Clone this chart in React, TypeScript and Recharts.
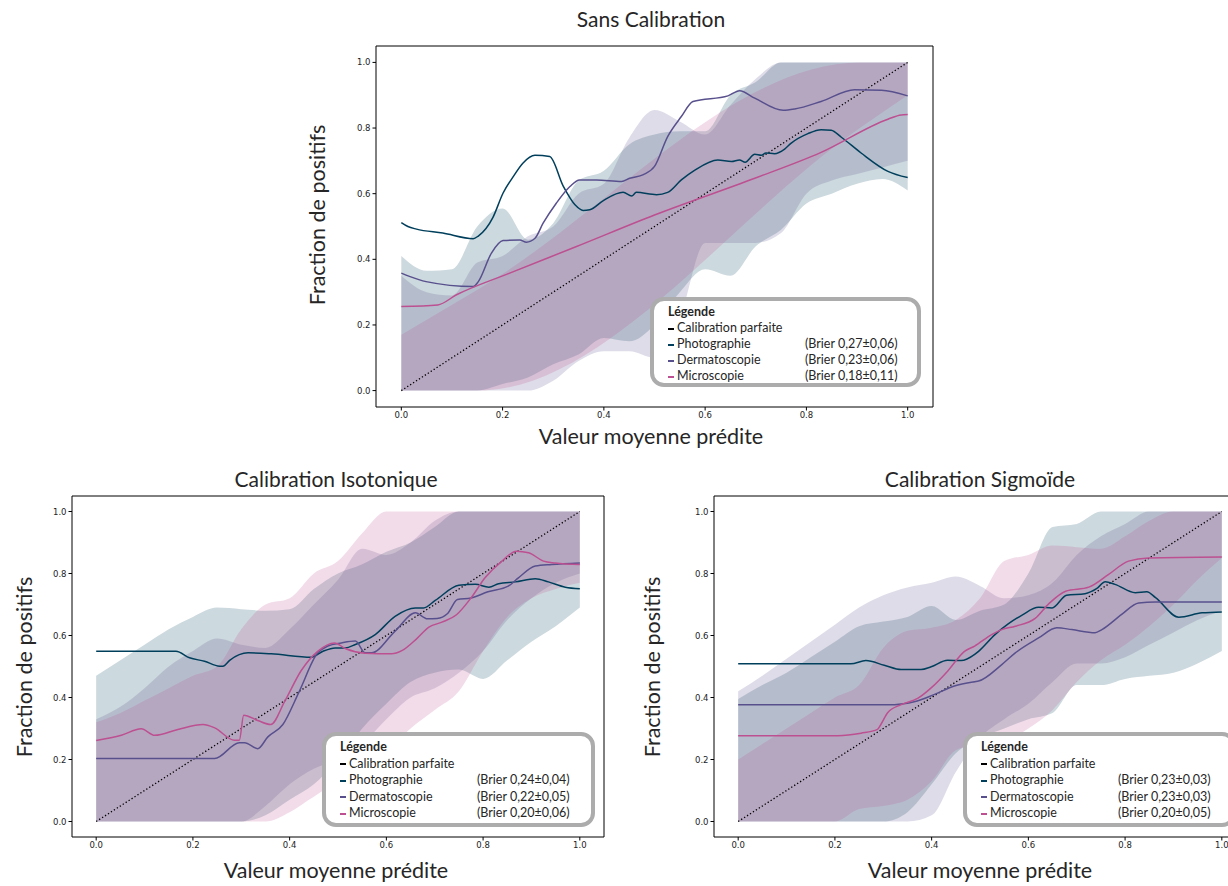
import React from "react";
import { Area, ComposedChart, Line, ReferenceArea, XAxis, YAxis } from "recharts";

const seriesNames = ["Photographie", "Dermatoscopie", "Microscopie"];
const seriesColors = ["#003f5c", "#58508d", "#bc5090"];
const axisTicks = [0, 0.2, 0.4, 0.6, 0.8, 1.0];
const bandX = [0, 0.05, 0.1, 0.15, 0.2, 0.25, 0.3, 0.35, 0.4, 0.45, 0.5, 0.55, 0.6, 0.65, 0.7, 0.75, 0.8, 0.85, 0.9, 0.95, 1.0];
const diagonalX = [0, 1];
const diagonalY = [0, 1];

// Sans calibration
const topPhotoX = [0, 0.013, 0.03, 0.082, 0.142, 0.152, 0.181, 0.201, 0.221, 0.24, 0.264, 0.293, 0.32, 0.343, 0.359, 0.372, 0.399, 0.438, 0.455, 0.464, 0.504, 0.526, 0.553, 0.579, 0.625, 0.652, 0.668, 0.679, 0.698, 0.711, 0.72, 0.737, 0.757, 0.77, 0.803, 0.829, 0.849, 0.869, 0.908, 0.961, 1.0];
const topPhotoY = [0.512, 0.5, 0.492, 0.48, 0.463, 0.471, 0.528, 0.602, 0.652, 0.693, 0.717, 0.713, 0.622, 0.566, 0.549, 0.551, 0.579, 0.604, 0.593, 0.604, 0.597, 0.604, 0.642, 0.671, 0.703, 0.698, 0.703, 0.696, 0.72, 0.717, 0.724, 0.722, 0.736, 0.754, 0.783, 0.795, 0.793, 0.772, 0.724, 0.668, 0.649];
const topDermX = [0, 0.016, 0.049, 0.142, 0.152, 0.178, 0.201, 0.234, 0.247, 0.264, 0.28, 0.306, 0.333, 0.352, 0.385, 0.435, 0.451, 0.478, 0.5, 0.526, 0.553, 0.576, 0.645, 0.668, 0.698, 0.754, 0.777, 0.829, 0.895, 0.948, 1.0];
const topDermY = [0.358, 0.348, 0.332, 0.317, 0.332, 0.419, 0.457, 0.459, 0.452, 0.464, 0.51, 0.571, 0.622, 0.642, 0.642, 0.637, 0.647, 0.658, 0.683, 0.774, 0.835, 0.881, 0.898, 0.914, 0.891, 0.854, 0.858, 0.881, 0.917, 0.915, 0.898];
const topMicroX = [0, 0.072, 0.109, 0.214, 0.346, 0.5, 0.698, 0.829, 0.961, 0.987, 1.0];
const topMicroY = [0.256, 0.261, 0.292, 0.358, 0.439, 0.535, 0.647, 0.726, 0.827, 0.84, 0.841];
const topPhotoLo = [0, 0, 0, 0, 0.02, 0.04, 0.08, 0.11, 0.16, 0.15, 0.2, 0.3, 0.37, 0.35, 0.44, 0.49, 0.57, 0.6, 0.63, 0.645, 0.61];
const topPhotoHi = [0.41, 0.365, 0.37, 0.5, 0.555, 0.46, 0.51, 0.64, 0.67, 0.75, 0.78, 0.79, 0.79, 0.9, 0.94, 1, 1, 1, 1, 1, 1];
const topDermLo = [0, 0, 0, 0, 0, 0, 0.03, 0.09, 0.12, 0.12, 0.1, 0.22, 0.45, 0.45, 0.45, 0.48, 0.6, 0.64, 0.66, 0.68, 0.7];
const topDermHi = [0.35, 0.3, 0.29, 0.39, 0.41, 0.47, 0.5, 0.6, 0.63, 0.77, 0.855, 0.82, 0.78, 0.87, 0.95, 1, 1, 1, 1, 1, 1];
const topMicroBandX = [0, 0.152, 0.907, 1.0];
const topMicroLo = [0, 0, 0.802, 0.9];
const topMicroHi = [0.17, 0.309, 1.0, 1.0];
const topBrier = ["(Brier 0,27±0,06)", "(Brier 0,23±0,06)", "(Brier 0,18±0,11)"];

// Calibration isotonique
const isoPhotoX = [0, 0.165, 0.193, 0.224, 0.255, 0.262, 0.276, 0.314, 0.362, 0.445, 0.469, 0.494, 0.515, 0.536, 0.577, 0.618, 0.66, 0.677, 0.701, 0.75, 0.784, 0.812, 0.832, 0.867, 0.908, 0.935, 0.97, 1.0];
const isoPhotoY = [0.549, 0.549, 0.528, 0.517, 0.501, 0.501, 0.52, 0.544, 0.541, 0.53, 0.549, 0.56, 0.56, 0.571, 0.603, 0.662, 0.689, 0.689, 0.713, 0.762, 0.765, 0.756, 0.767, 0.773, 0.783, 0.773, 0.756, 0.751];
const isoDermX = [0, 0.245, 0.296, 0.307, 0.334, 0.355, 0.386, 0.42, 0.458, 0.479, 0.507, 0.536, 0.556, 0.569, 0.618, 0.66, 0.685, 0.705, 0.726, 0.747, 0.775, 0.81, 0.852, 0.873, 0.908, 0.942, 1.0];
const isoDermY = [0.203, 0.203, 0.254, 0.254, 0.235, 0.273, 0.313, 0.42, 0.544, 0.566, 0.576, 0.582, 0.544, 0.544, 0.614, 0.673, 0.654, 0.655, 0.67, 0.716, 0.721, 0.741, 0.759, 0.786, 0.824, 0.829, 0.834];
const isoMicroX = [0, 0.052, 0.093, 0.121, 0.169, 0.221, 0.245, 0.286, 0.296, 0.305, 0.334, 0.361, 0.39, 0.424, 0.458, 0.493, 0.515, 0.556, 0.611, 0.632, 0.663, 0.688, 0.715, 0.745, 0.775, 0.804, 0.839, 0.869, 0.894, 0.925, 0.949, 1.0];
const isoMicroY = [0.261, 0.278, 0.299, 0.278, 0.297, 0.313, 0.302, 0.262, 0.262, 0.343, 0.326, 0.313, 0.388, 0.487, 0.549, 0.576, 0.558, 0.543, 0.541, 0.551, 0.59, 0.627, 0.643, 0.667, 0.721, 0.786, 0.84, 0.872, 0.867, 0.84, 0.834, 0.829];
const isoPhotoLo = [0, 0, 0, 0, 0, 0, 0, 0.02, 0.07, 0.12, 0.2, 0.3, 0.38, 0.45, 0.48, 0.49, 0.46, 0.52, 0.58, 0.63, 0.69];
const isoPhotoHi = [0.47, 0.52, 0.57, 0.62, 0.66, 0.69, 0.685, 0.68, 0.685, 0.75, 0.8, 0.83, 0.87, 0.9, 0.95, 1, 1, 1, 1, 1, 1];
const isoDermLo = [0, 0, 0, 0, 0, 0, 0, 0.05, 0.12, 0.17, 0.2, 0.25, 0.33, 0.4, 0.43, 0.48, 0.55, 0.65, 0.72, 0.77, 0.8];
const isoDermHi = [0.33, 0.37, 0.43, 0.5, 0.55, 0.59, 0.57, 0.56, 0.62, 0.7, 0.78, 0.88, 0.86, 0.9, 0.97, 1, 1, 1, 1, 1, 1];
const isoMicroLo = [0, 0, 0, 0, 0, 0, 0, 0, 0.03, 0.08, 0.12, 0.12, 0.22, 0.3, 0.36, 0.42, 0.55, 0.66, 0.72, 0.75, 0.77];
const isoMicroHi = [0.32, 0.35, 0.39, 0.43, 0.47, 0.5, 0.62, 0.7, 0.72, 0.8, 0.84, 0.93, 1, 1, 1, 1, 1, 1, 1, 1, 1];
const isoBrier = ["(Brier 0,24±0,04)", "(Brier 0,22±0,05)", "(Brier 0,20±0,06)"];

// Calibration sigmoïde
const sigPhotoX = [0, 0.233, 0.264, 0.302, 0.337, 0.378, 0.399, 0.433, 0.461, 0.489, 0.497, 0.531, 0.559, 0.587, 0.621, 0.649, 0.679, 0.717, 0.741, 0.759, 0.779, 0.821, 0.845, 0.863, 0.911, 0.959, 1.0];
const sigPhotoY = [0.509, 0.509, 0.519, 0.504, 0.49, 0.49, 0.499, 0.52, 0.519, 0.539, 0.549, 0.603, 0.638, 0.666, 0.691, 0.689, 0.73, 0.735, 0.751, 0.773, 0.765, 0.738, 0.741, 0.722, 0.659, 0.673, 0.676];
const sigDermX = [0, 0.323, 0.364, 0.406, 0.447, 0.489, 0.497, 0.545, 0.573, 0.621, 0.659, 0.69, 0.738, 0.752, 0.793, 0.828, 0.863, 1.0];
const sigDermY = [0.377, 0.377, 0.386, 0.41, 0.437, 0.451, 0.453, 0.506, 0.544, 0.592, 0.625, 0.619, 0.609, 0.619, 0.668, 0.705, 0.708, 0.708];
const sigMicroX = [0, 0.206, 0.254, 0.288, 0.295, 0.309, 0.337, 0.371, 0.399, 0.433, 0.468, 0.489, 0.524, 0.545, 0.573, 0.614, 0.642, 0.677, 0.725, 0.766, 0.807, 0.849, 1.0];
const sigMicroY = [0.277, 0.277, 0.285, 0.297, 0.313, 0.351, 0.377, 0.397, 0.431, 0.485, 0.549, 0.566, 0.603, 0.619, 0.63, 0.655, 0.702, 0.743, 0.756, 0.797, 0.84, 0.85, 0.853];
const sigPhotoLo = [0, 0, 0, 0, 0, 0, 0, 0.03, 0.12, 0.22, 0.27, 0.3, 0.33, 0.35, 0.44, 0.44, 0.46, 0.47, 0.48, 0.51, 0.55];
const sigPhotoHi = [0.395, 0.44, 0.48, 0.53, 0.58, 0.63, 0.645, 0.66, 0.695, 0.65, 0.68, 0.7, 0.8, 0.95, 0.96, 1, 1, 1, 1, 1, 1];
const sigDermLo = [0, 0, 0, 0, 0, 0, 0, 0, 0.02, 0.16, 0.27, 0.33, 0.38, 0.45, 0.51, 0.51, 0.53, 0.57, 0.61, 0.65, 0.68];
const sigDermHi = [0.42, 0.47, 0.525, 0.58, 0.635, 0.69, 0.73, 0.755, 0.77, 0.79, 0.76, 0.72, 0.73, 0.77, 0.86, 0.92, 0.96, 1, 1, 1, 1];
const sigMicroLo = [0, 0, 0, 0, 0, 0.04, 0.05, 0.07, 0.13, 0.23, 0.25, 0.26, 0.3, 0.36, 0.45, 0.52, 0.57, 0.63, 0.7, 0.78, 0.85];
const sigMicroHi = [0.2, 0.25, 0.3, 0.35, 0.4, 0.44, 0.56, 0.615, 0.625, 0.65, 0.72, 0.84, 0.86, 0.89, 0.885, 0.88, 0.92, 0.97, 1, 1, 1];
const sigBrier = ["(Brier 0,23±0,03)", "(Brier 0,23±0,03)", "(Brier 0,20±0,05)"];

type Pt = { x: number; y: number };
type BandPt = { x: number; range: [number, number] };

const toPoints = (xs: number[], ys: number[]): Pt[] => xs.map((x, i) => ({ x, y: ys[i] }));
const toBand = (xs: number[], lo: number[], hi: number[]): BandPt[] =>
  xs.map((x, i) => ({ x, range: [lo[i], hi[i]] }));

const tickStyle = { fontSize: 8.5, fill: "#222", fontFamily: "DejaVu Sans" };
const fmt = (v: number) => v.toFixed(1);
const uiFont = "Lato, 'Open Sans', sans-serif";

type PanelProps = {
  left: number;
  top: number;
  width: number;
  height: number;
  bands: BandPt[][];
  lines: Pt[][];
};

const Panel: React.FC<PanelProps> = ({ left, top, width, height, bands, lines }) => (
  <div style={{ position: "absolute", left, top }}>
    <ComposedChart width={width} height={height} margin={{ top: 10, right: 10, bottom: 0, left: 0 }}>
      <XAxis
        dataKey="x"
        type="number"
        domain={[-0.05, 1.05]}
        ticks={axisTicks}
        tickFormatter={fmt}
        allowDataOverflow
        height={30}
        tickSize={3.5}
        tickMargin={1}
        axisLine={false}
        tickLine={{ stroke: "#000" }}
        tick={tickStyle}
      />
      <YAxis
        type="number"
        domain={[-0.05, 1.05]}
        ticks={axisTicks}
        tickFormatter={fmt}
        allowDataOverflow
        width={50}
        tickSize={3.5}
        tickMargin={2}
        axisLine={false}
        tickLine={{ stroke: "#000" }}
        tick={tickStyle}
      />
      {bands.map((b, i) => (
        <Area
          key={"band" + i}
          data={b}
          dataKey="range"
          type="monotone"
          stroke="none"
          fill={seriesColors[i]}
          fillOpacity={0.2}
          activeDot={false}
          isAnimationActive={false}
        />
      ))}
      <Line
        data={toPoints(diagonalX, diagonalY)}
        dataKey="y"
        type="linear"
        stroke="#000"
        strokeWidth={1.3}
        strokeDasharray="1.3 2.2"
        dot={false}
        activeDot={false}
        isAnimationActive={false}
      />
      {lines.map((l, i) => (
        <Line
          key={"line" + i}
          data={l}
          dataKey="y"
          type="monotone"
          stroke={seriesColors[i]}
          strokeWidth={1.5}
          dot={false}
          activeDot={false}
          isAnimationActive={false}
        />
      ))}
      <ReferenceArea x1={-0.05} x2={1.05} y1={-0.05} y2={1.05} fill="none" fillOpacity={0} stroke="#000" strokeWidth={1} />
    </ComposedChart>
  </div>
);

const Label: React.FC<{ x: number; y: number; size: number; rotate?: boolean; children: React.ReactNode }> = ({
  x,
  y,
  size,
  rotate,
  children,
}) => (
  <div
    style={{
      position: "absolute",
      left: x,
      top: y,
      transform: `translate(-50%, -50%)${rotate ? " rotate(-90deg)" : ""}`,
      whiteSpace: "nowrap",
      fontFamily: uiFont,
      fontSize: size,
      color: "#262626",
      lineHeight: 1,
    }}
  >
    {children}
  </div>
);

const LegendBox: React.FC<{ left: number; top: number; width: number; height: number; step: number; brier: string[] }> = ({
  left,
  top,
  width,
  height,
  step,
  brier,
}) => {
  const rows = [
    { name: "Calibration parfaite", color: "#000", brier: "" },
    ...seriesNames.map((n, i) => ({ name: n, color: seriesColors[i], brier: brier[i] })),
  ];
  const rowTop = (k: number) => 3 + k * step;
  return (
    <div
      style={{
        position: "absolute",
        left,
        top,
        width,
        height,
        boxSizing: "border-box",
        border: "4px solid #acacac",
        borderRadius: 14,
        background: "#fff",
        fontFamily: uiFont,
        fontSize: 12.5,
        color: "#262626",
      }}
    >
      <div style={{ position: "absolute", left: 14, top: rowTop(0), lineHeight: "16px", fontWeight: 700 }}>Légende</div>
      {rows.map((r, k) => (
        <React.Fragment key={r.name}>
          <div style={{ position: "absolute", left: 14, top: rowTop(k + 1), lineHeight: "16px", whiteSpace: "nowrap" }}>
            <span
              style={{
                display: "inline-block",
                width: 6,
                height: 2,
                background: r.color,
                verticalAlign: "middle",
                marginRight: 3,
              }}
            />
            {r.name}
          </div>
          {r.brier && (
            <div style={{ position: "absolute", left: 151, top: rowTop(k + 1), lineHeight: "16px", whiteSpace: "nowrap" }}>
              {r.brier}
            </div>
          )}
        </React.Fragment>
      ))}
    </div>
  );
};

export default function App() {
  const topBands = [
    toBand(bandX, topPhotoLo, topPhotoHi),
    toBand(bandX, topDermLo, topDermHi),
    toBand(topMicroBandX, topMicroLo, topMicroHi),
  ];
  const topLines = [toPoints(topPhotoX, topPhotoY), toPoints(topDermX, topDermY), toPoints(topMicroX, topMicroY)];
  const isoBands = [
    toBand(bandX, isoPhotoLo, isoPhotoHi),
    toBand(bandX, isoDermLo, isoDermHi),
    toBand(bandX, isoMicroLo, isoMicroHi),
  ];
  const isoLines = [toPoints(isoPhotoX, isoPhotoY), toPoints(isoDermX, isoDermY), toPoints(isoMicroX, isoMicroY)];
  const sigBands = [
    toBand(bandX, sigPhotoLo, sigPhotoHi),
    toBand(bandX, sigDermLo, sigDermHi),
    toBand(bandX, sigMicroLo, sigMicroHi),
  ];
  const sigLines = [toPoints(sigPhotoX, sigPhotoY), toPoints(sigDermX, sigDermY), toPoints(sigMicroX, sigMicroY)];

  return (
    <div
      style={{
        position: "absolute",
        left: 0,
        top: 0,
        width: 1228,
        height: 886,
        overflow: "hidden",
        background: "#fff",
      }}
    >
      <Panel left={326} top={36} width={617} height={401} bands={topBands} lines={topLines} />
      <Panel left={22} top={486} width={592} height={381} bands={isoBands} lines={isoLines} />
      <Panel left={664} top={486} width={592} height={381} bands={sigBands} lines={sigLines} />

      <Label x={651} y={18} size={21}>Sans Calibration</Label>
      <Label x={651} y={437} size={21.5}>Valeur moyenne prédite</Label>
      <Label x={318} y={215} size={21.5} rotate>Fraction de positifs</Label>

      <Label x={336} y={478} size={21}>Calibration Isotonique</Label>
      <Label x={336} y={871} size={21.5}>Valeur moyenne prédite</Label>
      <Label x={25} y={667} size={21.5} rotate>Fraction de positifs</Label>

      <Label x={980} y={478} size={21}>Calibration Sigmoïde</Label>
      <Label x={980} y={871} size={21.5}>Valeur moyenne prédite</Label>
      <Label x={653} y={667} size={21.5} rotate>Fraction de positifs</Label>

      <LegendBox left={650} top={297} width={271} height={90} step={16} brier={topBrier} />
      <LegendBox left={322} top={732} width={273} height={95} step={16.5} brier={isoBrier} />
      <LegendBox left={963} top={732} width={273} height={95} step={16.5} brier={sigBrier} />
    </div>
  );
}
